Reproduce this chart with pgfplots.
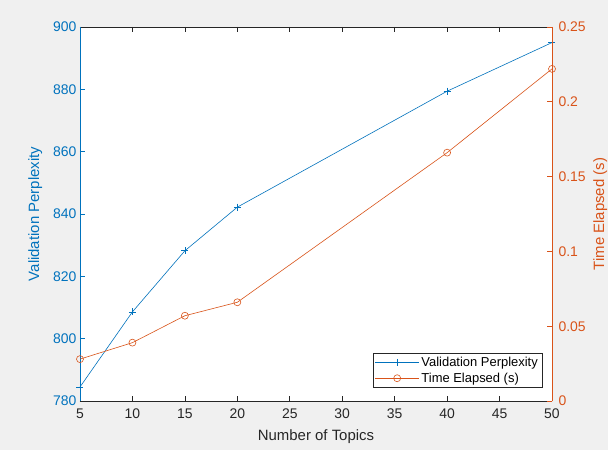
\documentclass[border=0pt]{standalone}
\usepackage{fontspec}
\setmainfont{Liberation Sans}
\usepackage{pgfplots}
\pgfplotsset{compat=1.18}
\definecolor{mblue}{rgb}{0,0.447,0.741}
\definecolor{morange}{rgb}{0.85,0.325,0.098}
\definecolor{mgray}{rgb}{0.15,0.15,0.15}
\definecolor{figbg}{RGB}{240,240,240}
\pgfplotsset{
  common/.style={
    at={(0,0)}, anchor=south west,
    scale only axis, width=472bp, height=374bp,
    xmin=5, xmax=50,
    tick align=inside, major tick length=5bp,
    /pgf/number format/assume math mode=true,
    ticklabel style={font=\fontsize{14}{16}\selectfont},
    axis line style={line width=0.6pt},
  },
}
\begin{document}
\begin{tikzpicture}
\fill[figbg] (-80bp,-49bp) rectangle (528bp,401bp);

% left axis: perplexity
\begin{axis}[common,
  axis background/.style={fill=white},
  ymin=780, ymax=900,
  xtick={5,10,...,50}, ytick={780,800,...,900},
  axis x line=box, axis y line*=left,
  x axis line style={mgray}, xtick style={mgray, line width=0.6pt},
  y axis line style={mblue}, ytick style={mblue, line width=0.6pt},
  xticklabel style={text=mgray, yshift=-4bp},
  yticklabel style={text=mblue},
  xlabel={Number of Topics},
  xlabel style={at={(axis description cs:0.5,-0.096)}, anchor=center, text=mgray,
    font=\fontsize{15}{17}\selectfont},
  ylabel={Validation Perplexity},
  ylabel style={at={(axis description cs:-0.095,0.5)}, anchor=center, text=mblue,
    font=\fontsize{15}{17}\selectfont},
]
\addplot[mblue, line width=0.6pt, mark=+, mark size=3.5bp] coordinates {
  (5,784.5) (10,808.6) (15,828.2) (20,842.2) (40,879.4) (50,895.0)
};
\end{axis}

% right axis: time
\begin{axis}[common,
  ymin=0, ymax=0.25,
  ytick={0,0.05,0.1,0.15,0.2,0.25},
  yticklabels={0,0.05,0.1,0.15,0.2,0.25},
  axis x line=none, axis y line*=right,
  y axis line style={morange}, ytick style={morange, line width=0.6pt},
  yticklabel style={text=morange, xshift=3bp},
  ylabel={Time Elapsed (s)},
  ylabel style={at={(axis description cs:1.102,0.5)}, anchor=center, text=morange,
    font=\fontsize{15}{17}\selectfont},
  legend style={at={(0.979,0.035)}, anchor=south east, draw=mgray, fill=white,
    line width=0.5pt, font=\fontsize{13}{15}\selectfont, text=black,
    inner sep=2bp, row sep=1bp},
  legend cell align=left,
  legend image code/.code={
    \draw[mark repeat=2, mark phase=2, #1] plot coordinates {(0bp,0bp) (22bp,0bp) (44bp,0bp)};
  },
]
\addlegendimage{mblue, line width=0.6pt, mark=+, mark size=3.5bp}
\addlegendentry{Validation Perplexity}
\addplot[morange, line width=0.6pt, mark=o, mark size=3.5bp] coordinates {
  (5,0.028) (10,0.039) (15,0.057) (20,0.066) (40,0.166) (50,0.222)
};
\addlegendentry{Time Elapsed (s)}
\end{axis}
\pgfresetboundingbox
\path (-80bp,-49bp) rectangle (528bp,401bp);
\end{tikzpicture}
\end{document}
